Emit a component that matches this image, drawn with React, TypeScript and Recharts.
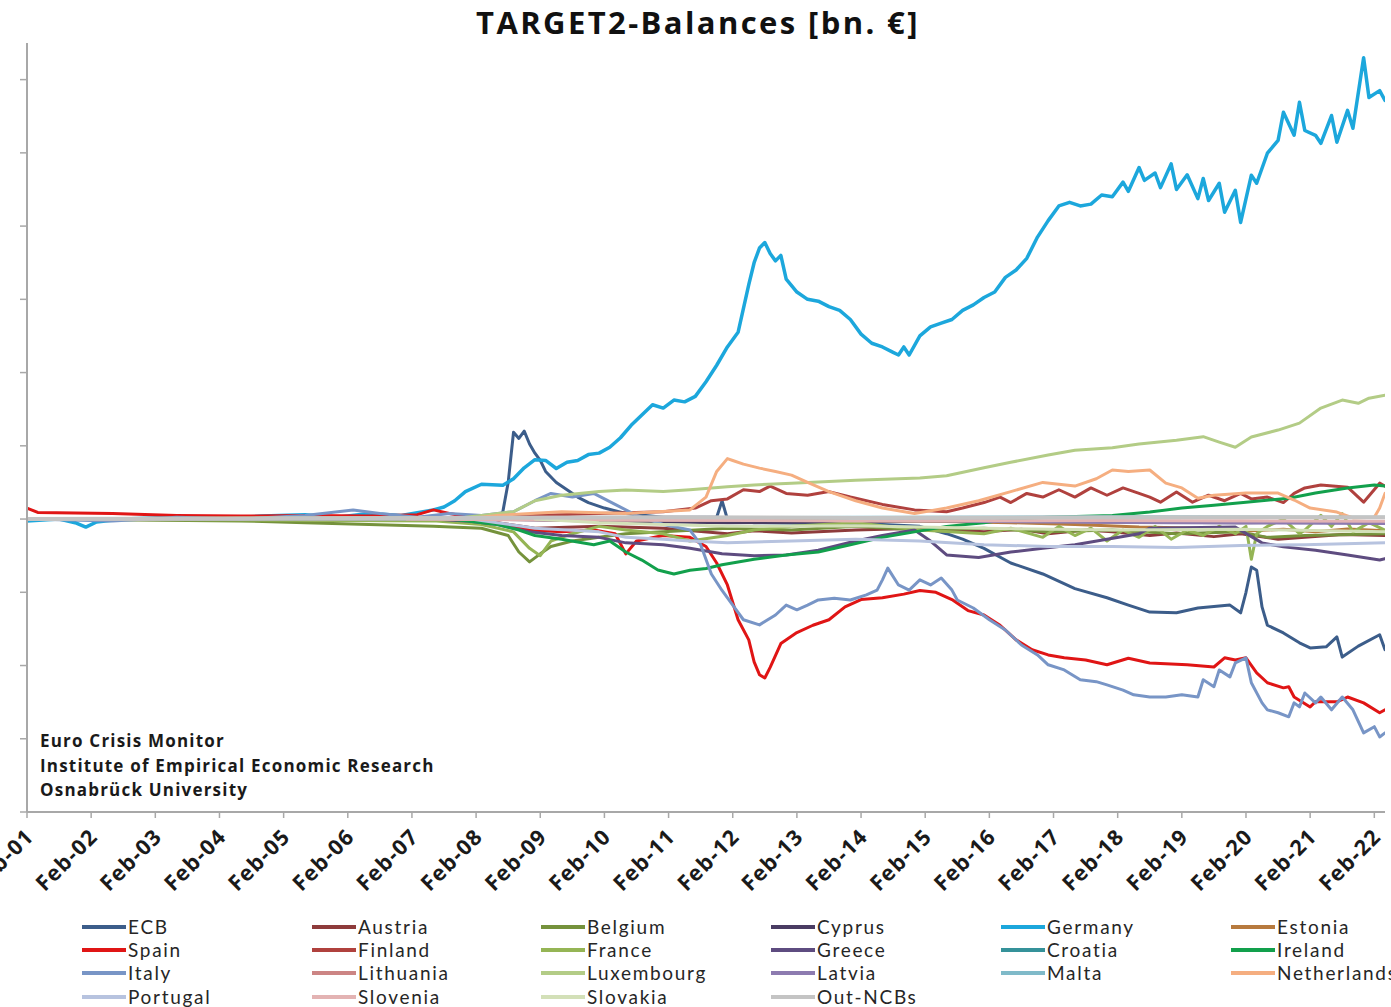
import React from 'react';
import { LineChart, Line, XAxis, YAxis } from 'recharts';

type Pt = [string, number];

const title = 'TARGET2-Balances [bn. €]';
const sourceLines = ['Euro Crisis Monitor', 'Institute of Empirical Economic Research', 'Osnabrück University'];
const yearLabels = ['Feb-01', 'Feb-02', 'Feb-03', 'Feb-04', 'Feb-05', 'Feb-06', 'Feb-07', 'Feb-08', 'Feb-09', 'Feb-10', 'Feb-11', 'Feb-12', 'Feb-13', 'Feb-14', 'Feb-15', 'Feb-16', 'Feb-17', 'Feb-18', 'Feb-19', 'Feb-20', 'Feb-21', 'Feb-22'];
const yTicks = [-800, -600, -400, -200, 0, 200, 400, 600, 800, 1000, 1200];

const ecb: Pt[] = [
  ['2001-02', 0], ['2008-06', 2], ['2008-07', 20], ['2008-08', 100], ['2008-09', 237], ['2008-10', 220], ['2008-11', 240], ['2008-12', 205],
  ['2009-01', 180], ['2009-02', 160], ['2009-03', 130], ['2009-05', 100], ['2009-07', 80], ['2009-09', 60], ['2009-11', 45], ['2010-02', 30],
  ['2010-06', 15], ['2011-01', 5], ['2011-11', 5], ['2011-12', 50], ['2012-01', 0], ['2012-06', -10], ['2013-06', -12], ['2014-06', -15],
  ['2015-01', -20], ['2015-06', -40], ['2015-09', -55], ['2016-01', -80], ['2016-06', -120], ['2016-12', -150], ['2017-06', -190],
  ['2017-12', -215], ['2018-04', -235], ['2018-08', -254], ['2019-01', -256], ['2019-05', -243], ['2019-11', -235], ['2020-01', -256],
  ['2020-02', -200], ['2020-03', -131], ['2020-04', -140], ['2020-05', -240], ['2020-06', -290], ['2020-09', -311], ['2020-12', -338],
  ['2021-02', -352], ['2021-05', -349], ['2021-07', -322], ['2021-08', -377], ['2021-11', -347], ['2022-03', -316], ['2022-04', -357],
];

const austria: Pt[] = [
  ['2001-02', 0], ['2007-06', -3], ['2008-06', -10], ['2009-01', -25], ['2010-01', -20], ['2011-01', -25], ['2012-01', -40], ['2012-06', -32],
  ['2013-01', -38], ['2014-01', -30], ['2015-01', -25], ['2016-01', -35], ['2016-08', -28], ['2017-01', -40], ['2017-08', -30], ['2018-01', -35],
  ['2018-08', -45], ['2019-01', -38], ['2019-08', -48], ['2020-01', -40], ['2020-08', -55], ['2021-01', -50], ['2021-08', -42], ['2022-04', -45],
];

const belgium: Pt[] = [
  ['2001-02', 0], ['2004-06', -5], ['2005-06', -10], ['2006-06', -15], ['2007-06', -20], ['2008-03', -25], ['2008-08', -45], ['2008-10', -90],
  ['2008-12', -117], ['2009-02', -95], ['2009-04', -75], ['2009-08', -60], ['2010-01', -50], ['2010-06', -40], ['2011-01', -35], ['2012-01', -25],
  ['2013-01', -30], ['2014-01', -20], ['2015-01', -30], ['2016-01', -25], ['2017-01', -35], ['2018-01', -30], ['2019-01', -40], ['2020-01', -35],
  ['2020-06', -50], ['2021-01', -45], ['2022-04', -40],
];

const cyprus: Pt[] = [
  ['2001-02', 0], ['2008-01', 0], ['2010-01', -5], ['2012-01', -10], ['2013-06', -8], ['2015-01', -5], ['2018-01', -8], ['2020-01', -10], ['2022-04', -8],
];

const germany: Pt[] = [
  ['2001-02', -5], ['2001-08', 0], ['2001-11', -10], ['2002-01', -22], ['2002-03', -8], ['2002-08', 0], ['2003-06', 5], ['2004-03', 3],
  ['2004-10', 8], ['2005-06', 12], ['2005-12', 5], ['2006-06', 15], ['2006-12', 10], ['2007-06', 25], ['2007-08', 33], ['2007-10', 50],
  ['2007-12', 75], ['2008-03', 95], ['2008-07', 92], ['2008-09', 110], ['2008-11', 140], ['2009-01', 162], ['2009-03', 160], ['2009-05', 138],
  ['2009-07', 155], ['2009-09', 160], ['2009-11', 176], ['2010-01', 180], ['2010-03', 196], ['2010-05', 222], ['2010-07', 256], ['2010-09', 284],
  ['2010-11', 312], ['2011-01', 303], ['2011-03', 325], ['2011-05', 320], ['2011-07', 335], ['2011-09', 375], ['2011-11', 420], ['2012-01', 470],
  ['2012-03', 510], ['2012-05', 640], ['2012-06', 700], ['2012-07', 740], ['2012-08', 755], ['2012-09', 725], ['2012-10', 705], ['2012-11', 720],
  ['2012-12', 655], ['2013-02', 620], ['2013-04', 600], ['2013-06', 595], ['2013-08', 580], ['2013-10', 570], ['2013-12', 545], ['2014-02', 505],
  ['2014-04', 480], ['2014-06', 470], ['2014-08', 455], ['2014-09', 448], ['2014-10', 470], ['2014-11', 448], ['2015-01', 500], ['2015-03', 525],
  ['2015-05', 535], ['2015-07', 545], ['2015-09', 570], ['2015-11', 585], ['2016-01', 605], ['2016-03', 620], ['2016-05', 660], ['2016-07', 680],
  ['2016-09', 712], ['2016-11', 770], ['2017-01', 815], ['2017-03', 855], ['2017-05', 865], ['2017-07', 855], ['2017-09', 860], ['2017-11', 885],
  ['2018-01', 880], ['2018-03', 920], ['2018-04', 895], ['2018-06', 960], ['2018-07', 925], ['2018-09', 945], ['2018-10', 905], ['2018-12', 970],
  ['2019-01', 900], ['2019-03', 940], ['2019-05', 875], ['2019-06', 930], ['2019-07', 870], ['2019-09', 917], ['2019-10', 838], ['2019-12', 898],
  ['2020-01', 810], ['2020-03', 939], ['2020-04', 917], ['2020-06', 999], ['2020-08', 1034], ['2020-09', 1111], ['2020-11', 1048], ['2020-12', 1138],
  ['2021-01', 1061], ['2021-03', 1048], ['2021-04', 1026], ['2021-06', 1102], ['2021-07', 1029], ['2021-09', 1116], ['2021-10', 1067],
  ['2021-12', 1260], ['2022-01', 1151], ['2022-03', 1170], ['2022-04', 1143],
];

const estonia: Pt[] = [
  ['2011-01', -2], ['2013-01', -3], ['2015-01', -5], ['2016-06', -10], ['2017-06', -15], ['2018-06', -22], ['2019-06', -25], ['2020-03', -32],
  ['2020-09', -28], ['2021-03', -35], ['2021-09', -27], ['2022-04', -32],
];

const spain: Pt[] = [
  ['2001-02', 30], ['2001-04', 18], ['2002-06', 15], ['2003-06', 10], ['2004-06', 8], ['2005-06', 10], ['2006-06', 8], ['2007-03', 12],
  ['2007-06', 25], ['2007-09', 15], ['2008-01', 5], ['2008-06', -10], ['2008-12', -30], ['2009-06', -35], ['2009-12', -30], ['2010-04', -40],
  ['2010-06', -95], ['2010-08', -60], ['2011-01', -45], ['2011-06', -50], ['2011-09', -75], ['2011-11', -120], ['2012-01', -180], ['2012-03', -275],
  ['2012-05', -330], ['2012-06', -390], ['2012-07', -425], ['2012-08', -434], ['2012-09', -405], ['2012-11', -340], ['2013-02', -310],
  ['2013-05', -290], ['2013-08', -275], ['2013-11', -240], ['2014-02', -220], ['2014-06', -215], ['2014-10', -205], ['2015-01', -195],
  ['2015-04', -200], ['2015-07', -220], ['2015-10', -250], ['2016-01', -262], ['2016-04', -290], ['2016-07', -330], ['2016-10', -357],
  ['2017-01', -371], ['2017-04', -379], ['2017-08', -385], ['2017-12', -398], ['2018-04', -380], ['2018-08', -393], ['2019-03', -398],
  ['2019-08', -404], ['2019-10', -379], ['2019-12', -385], ['2020-02', -379], ['2020-04', -420], ['2020-06', -447], ['2020-09', -461],
  ['2020-10', -458], ['2020-11', -486], ['2021-02', -513], ['2021-03', -499], ['2021-07', -499], ['2021-09', -486], ['2021-12', -502],
  ['2022-03', -529], ['2022-04', -521],
];

const finland: Pt[] = [
  ['2001-02', 0], ['2008-06', 5], ['2009-01', 10], ['2010-01', 15], ['2011-01', 20], ['2011-07', 30], ['2011-10', 50], ['2012-01', 55],
  ['2012-04', 80], ['2012-07', 75], ['2012-09', 90], ['2012-12', 70], ['2013-04', 65], ['2013-08', 75], ['2013-12', 60], ['2014-06', 40],
  ['2014-12', 25], ['2015-06', 20], ['2015-09', 30], ['2016-01', 45], ['2016-04', 60], ['2016-06', 45], ['2016-09', 70], ['2016-12', 60],
  ['2017-03', 80], ['2017-06', 60], ['2017-09', 85], ['2017-12', 65], ['2018-03', 85], ['2018-06', 70], ['2018-08', 60], ['2018-10', 46],
  ['2019-01', 74], ['2019-04', 46], ['2019-07', 65], ['2019-10', 50], ['2020-01', 70], ['2020-03', 55], ['2020-06', 60], ['2020-09', 45],
  ['2020-11', 70], ['2021-01', 85], ['2021-04', 93], ['2021-09', 87], ['2021-12', 46], ['2022-03', 98], ['2022-04', 90],
];

const france: Pt[] = [
  ['2001-02', 0], ['2007-06', -5], ['2008-03', -15], ['2008-09', -35], ['2008-12', -80], ['2009-02', -100], ['2009-04', -60], ['2009-08', -40],
  ['2010-01', -20], ['2010-06', -30], ['2011-01', -40], ['2011-06', -60], ['2012-01', -45], ['2012-06', -30], ['2013-01', -20], ['2014-01', -10],
  ['2015-01', -30], ['2016-01', -40], ['2016-06', -25], ['2016-12', -50], ['2017-03', -20], ['2017-06', -45], ['2017-09', -25], ['2017-12', -60],
  ['2018-03', -30], ['2018-06', -50], ['2018-09', -20], ['2018-12', -55], ['2019-03', -30], ['2019-06', -45], ['2019-09', -20], ['2019-12', -40],
  ['2020-02', -20], ['2020-03', -110], ['2020-04', -40], ['2020-06', -20], ['2020-09', 0], ['2020-12', -40], ['2021-01', -30], ['2021-04', 10],
  ['2021-06', -20], ['2021-08', 15], ['2021-10', -35], ['2022-01', -10], ['2022-04', -30],
];

const greece: Pt[] = [
  ['2001-02', 0], ['2007-06', 0], ['2007-12', -5], ['2008-06', -15], ['2008-12', -35], ['2009-06', -45], ['2010-01', -50], ['2010-06', -65],
  ['2011-01', -70], ['2011-06', -80], ['2011-12', -95], ['2012-06', -100], ['2012-12', -98], ['2013-06', -85], ['2014-01', -60], ['2014-06', -45],
  ['2014-12', -30], ['2015-03', -60], ['2015-06', -98], ['2015-12', -105], ['2016-06', -90], ['2016-12', -80], ['2017-06', -70], ['2017-12', -55],
  ['2018-06', -40], ['2018-08', -25], ['2019-12', -22], ['2020-05', -65], ['2020-09', -76], ['2021-03', -85], ['2021-09', -98], ['2022-03', -112],
  ['2022-04', -108],
];

const croatia: Pt[] = [];

const ireland: Pt[] = [
  ['2001-02', 0], ['2007-09', 0], ['2007-12', -5], ['2008-06', -15], ['2008-10', -30], ['2009-01', -45], ['2009-06', -55], ['2009-12', -70],
  ['2010-03', -60], ['2010-06', -90], ['2010-09', -112], ['2010-12', -139], ['2011-03', -150], ['2011-06', -140], ['2011-09', -135],
  ['2011-12', -125], ['2012-06', -110], ['2012-12', -98], ['2013-06', -90], ['2013-12', -70], ['2014-06', -50], ['2014-12', -35], ['2015-06', -20],
  ['2016-01', -10], ['2016-06', 0], ['2017-01', 5], ['2018-01', 10], ['2018-08', 19], ['2019-02', 30], ['2019-08', 38], ['2020-02', 46],
  ['2020-10', 57], ['2021-03', 71], ['2021-09', 85], ['2022-02', 93], ['2022-04', 90],
];

const italy: Pt[] = [
  ['2001-02', 0], ['2002-06', -5], ['2003-06', 5], ['2004-06', 0], ['2005-06', 10], ['2006-03', 25], ['2006-08', 15], ['2007-03', 5],
  ['2007-09', 15], ['2008-03', 10], ['2008-09', 20], ['2009-01', 50], ['2009-04', 70], ['2009-08', 60], ['2009-12', 70], ['2010-04', 40],
  ['2010-08', 10], ['2011-01', -15], ['2011-06', -30], ['2011-08', -70], ['2011-10', -150], ['2011-12', -195], ['2012-02', -235],
  ['2012-04', -275], ['2012-07', -289], ['2012-10', -262], ['2012-12', -235], ['2013-02', -248], ['2013-04', -235], ['2013-06', -221],
  ['2013-09', -216], ['2013-12', -221], ['2014-03', -207], ['2014-05', -194], ['2014-06', -166], ['2014-07', -134], ['2014-09', -180],
  ['2014-11', -194], ['2015-01', -166], ['2015-03', -180], ['2015-05', -161], ['2015-07', -194], ['2015-08', -221], ['2015-11', -243],
  ['2016-02', -275], ['2016-05', -303], ['2016-08', -344], ['2016-11', -371], ['2017-01', -398], ['2017-04', -412], ['2017-07', -439],
  ['2017-10', -444], ['2017-12', -453], ['2018-03', -467], ['2018-05', -480], ['2018-08', -486], ['2018-11', -486], ['2019-02', -480],
  ['2019-05', -486], ['2019-06', -439], ['2019-08', -458], ['2019-09', -412], ['2019-11', -431], ['2019-12', -393], ['2020-02', -379],
  ['2020-03', -447], ['2020-05', -502], ['2020-06', -521], ['2020-08', -529], ['2020-10', -540], ['2020-11', -502], ['2020-12', -513],
  ['2021-01', -475], ['2021-03', -502], ['2021-04', -486], ['2021-06', -521], ['2021-08', -486], ['2021-10', -521], ['2021-12', -584],
  ['2022-02', -567], ['2022-03', -595], ['2022-04', -584],
];

const lithuania: Pt[] = [
  ['2015-01', -2], ['2016-06', -5], ['2018-01', -8], ['2020-01', -6], ['2022-04', -10],
];

const luxembourg: Pt[] = [
  ['2001-02', 0], ['2004-06', 3], ['2007-12', 5], ['2008-03', 10], ['2008-09', 20], ['2009-01', 50], ['2009-06', 65], ['2010-01', 75],
  ['2010-06', 79], ['2011-01', 75], ['2011-06', 80], ['2012-01', 88], ['2012-06', 93], ['2013-01', 98], ['2014-01', 106], ['2015-01', 112],
  ['2015-06', 118], ['2016-01', 140], ['2016-06', 155], ['2017-01', 175], ['2017-06', 188], ['2018-01', 195], ['2018-06', 205],
  ['2019-01', 215], ['2019-06', 225], ['2019-09', 210], ['2019-12', 196], ['2020-03', 224], ['2020-08', 243], ['2020-12', 262],
  ['2021-04', 303], ['2021-08', 325], ['2021-11', 316], ['2022-01', 330], ['2022-04', 338],
];

const latvia: Pt[] = [
  ['2014-01', -2], ['2015-06', -5], ['2017-01', -8], ['2019-01', -10], ['2022-04', -12],
];

const malta: Pt[] = [
  ['2008-01', 0], ['2010-01', 3], ['2014-01', 5], ['2018-01', 6], ['2022-04', 5],
];

const netherlands: Pt[] = [
  ['2001-02', 0], ['2007-12', 0], ['2008-06', 10], ['2009-06', 20], ['2010-06', 15], ['2011-06', 25], ['2011-09', 60], ['2011-11', 130],
  ['2012-01', 165], ['2012-02', 160], ['2012-04', 150], ['2012-07', 139], ['2012-10', 130], ['2013-01', 120], ['2013-04', 100], ['2013-08', 75],
  ['2014-01', 50], ['2014-06', 30], ['2014-12', 15], ['2015-06', 30], ['2015-12', 50], ['2016-06', 75], ['2016-12', 100], ['2017-06', 90],
  ['2017-10', 110], ['2018-01', 134], ['2018-04', 130], ['2018-08', 134], ['2018-11', 98], ['2019-02', 85], ['2019-05', 57], ['2019-08', 65],
  ['2020-02', 71], ['2020-08', 71], ['2020-11', 52], ['2021-02', 30], ['2021-07', 19], ['2021-10', 3], ['2022-02', 5], ['2022-03', 30],
  ['2022-04', 70],
];

const portugal: Pt[] = [
  ['2001-02', 0], ['2008-01', 0], ['2008-06', -10], ['2009-01', -25], ['2010-01', -35], ['2010-06', -50], ['2011-01', -55], ['2011-06', -60],
  ['2012-01', -65], ['2013-01', -60], ['2014-01', -55], ['2015-01', -60], ['2016-01', -70], ['2017-01', -75], ['2018-01', -75], ['2019-01', -78],
  ['2020-01', -72], ['2021-01', -70], ['2022-04', -65],
];

const slovenia: Pt[] = [
  ['2007-01', 0], ['2010-01', -3], ['2014-01', -5], ['2018-01', -4], ['2022-04', -6],
];

const slovakia: Pt[] = [
  ['2009-01', 0], ['2010-01', -10], ['2012-01', -20], ['2014-01', -18], ['2016-01', -25], ['2018-01', -30], ['2020-01', -28], ['2022-04', -35],
];

const outNcbs: Pt[] = [
  ['2001-02', 0], ['2005-01', 2], ['2008-01', 3], ['2011-01', 5], ['2014-01', 3], ['2017-01', 4], ['2020-01', 5], ['2022-04', 5],
];

const seriesNames = ['ECB', 'Austria', 'Belgium', 'Cyprus', 'Germany', 'Estonia', 'Spain', 'Finland', 'France', 'Greece', 'Croatia', 'Ireland', 'Italy', 'Lithuania', 'Luxembourg', 'Latvia', 'Malta', 'Netherlands', 'Portugal', 'Slovenia', 'Slovakia', 'Out-NCBs'];
const seriesData: Pt[][] = [ecb, austria, belgium, cyprus, germany, estonia, spain, finland, france, greece, croatia, ireland, italy, lithuania, luxembourg, latvia, malta, netherlands, portugal, slovenia, slovakia, outNcbs];
const seriesColors = ['#3c5d8a', '#8e3b3b', '#75923c', '#4a3c63', '#1ca7dc', '#b77a3e', '#e01515', '#b0413e', '#95b555', '#5e4c80', '#35929a', '#12a04c', '#7895c6', '#cc8584', '#b3cc86', '#8d7bb0', '#7fbac9', '#f5ae80', '#b7c3df', '#e3b3b3', '#d3e0b8', '#c4c4c4'];

const toMonth = (d: string) => {
  const [y, m] = d.split('-').map(Number);
  return (y - 2001) * 12 + (m - 2);
};

const FONT = '"Open Sans", Lato, sans-serif';
const LEGEND_FONT = 'Lato, "Open Sans", sans-serif';

const XTick = (props: any) => {
  const { x, y, payload } = props;
  const idx = Math.round(payload.value / 12);
  const ax = x + 8;
  const ay = y + 18;
  return (
    <text x={ax} y={ay} transform={`rotate(-45 ${ax} ${ay})`} textAnchor="end" fontSize={21.5} fontWeight={700} letterSpacing={1.2} fill="#1a1a1a" fontFamily={FONT}>
      {yearLabels[idx]}
    </text>
  );
};

const NoTick = () => <g />;

export default function App() {
  const xTicks = yearLabels.map((_, i) => i * 12);
  const legendX = [82, 312, 541, 771, 1001, 1231];
  const legendY = [927, 950, 973, 997];
  return (
    <div style={{ position: 'absolute', left: 0, top: 0, width: 1391, height: 1007, background: '#fff', overflow: 'hidden', fontFamily: FONT }}>
      <div style={{ position: 'absolute', left: 0, top: 0, width: 1396, textAlign: 'center', fontSize: 31, fontWeight: 700, letterSpacing: 2.4, color: '#111', lineHeight: '44px' }}>{title}</div>
      <LineChart width={1391} height={905} margin={{ top: 43, right: 6, bottom: 0, left: 7 }}>
        <XAxis type="number" dataKey="t" domain={[0, 254]} ticks={xTicks} allowDataOverflow height={93}
          axisLine={{ stroke: '#a8a8a8', strokeWidth: 2 }} tickLine={{ stroke: '#a8a8a8', strokeWidth: 1.5 }} tickSize={6} tick={<XTick />} interval={0} />
        <YAxis type="number" domain={[-800, 1300]} ticks={yTicks} width={20} allowDataOverflow interval={0}
          axisLine={{ stroke: '#a8a8a8', strokeWidth: 2 }} tickLine={{ stroke: '#a8a8a8', strokeWidth: 1.5 }} tickSize={7} tick={<NoTick />} />
        {seriesNames.map((name, i) => (
          <Line key={name} name={name} data={seriesData[i].map(([d, v]) => ({ t: toMonth(d), v }))} dataKey="v" type="linear"
            stroke={seriesColors[i]} strokeWidth={name === 'Germany' ? 3.5 : name === 'Out-NCBs' ? 4 : 3} dot={false}
            isAnimationActive={false} strokeLinejoin="round" strokeLinecap="round" />
        ))}
      </LineChart>
      <div style={{ position: 'absolute', left: 40, top: 729, fontSize: 17, fontWeight: 700, letterSpacing: 1.2, color: '#1a1a1a', lineHeight: '24.5px' }}>
        {sourceLines.map((l) => <div key={l}>{l}</div>)}
      </div>
      {seriesNames.map((name, i) => (
        <div key={name} style={{ position: 'absolute', left: legendX[i % 6], top: legendY[Math.floor(i / 6)] - 11, height: 22, display: 'flex', alignItems: 'center' }}>
          <div style={{ width: 44, height: 4, background: seriesColors[i] }} />
          <span style={{ fontFamily: LEGEND_FONT, fontSize: 19, letterSpacing: 1.7, color: '#262626', marginLeft: 2, whiteSpace: 'nowrap', lineHeight: '22px' }}>{name}</span>
        </div>
      ))}
    </div>
  );
}
